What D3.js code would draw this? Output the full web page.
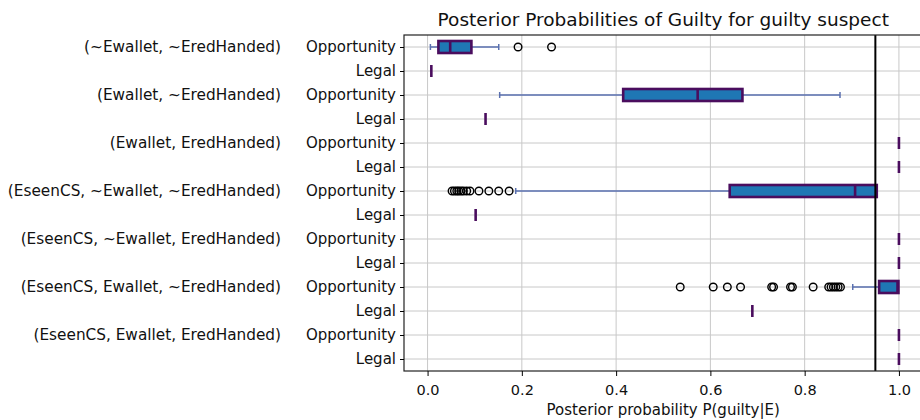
<!DOCTYPE html>
<html>
<head>
    <meta charset="utf-8">
    <title>Posterior Probabilities</title>
    <style>
        body { margin: 0; background: #fff; }
        text { font-family: "DejaVu Sans", sans-serif; }
    </style>
</head>
<body>
    <script src="https://cdnjs.cloudflare.com/ajax/libs/d3/7.9.0/d3.min.js"></script>
    <script>

        // one group label per pair of rows (Opportunity, Legal)
        const groups = [
            "(~Ewallet, ~EredHanded)",
            "(Ewallet, ~EredHanded)",
            "(Ewallet, EredHanded)",
            "(EseenCS, ~Ewallet, ~EredHanded)",
            "(EseenCS, ~Ewallet, EredHanded)",
            "(EseenCS, Ewallet, ~EredHanded)",
            "(EseenCS, Ewallet, EredHanded)"
        ];
        const rowLabels = ["Opportunity", "Legal"];

        // box summaries, one entry per row, top to bottom
        const whiskerLow  = [0.006, 0.008, 0.153, 0.123, 1.0, 1.0, 0.187, 0.102, 1.0, 1.0, 0.902, 0.689, 1.0, 1.0];
        const q1          = [0.023, 0.008, 0.415, 0.123, 1.0, 1.0, 0.641, 0.102, 1.0, 1.0, 0.958, 0.689, 1.0, 1.0];
        const median      = [0.048, 0.008, 0.573, 0.123, 1.0, 1.0, 0.907, 0.102, 1.0, 1.0, 0.997, 0.689, 1.0, 1.0];
        const q3          = [0.093, 0.008, 0.668, 0.123, 1.0, 1.0, 0.953, 0.102, 1.0, 1.0, 0.999, 0.689, 1.0, 1.0];
        const whiskerHigh = [0.151, 0.008, 0.875, 0.123, 1.0, 1.0, 0.953, 0.102, 1.0, 1.0, 0.999, 0.689, 1.0, 1.0];
        const outliers = [
            [0.192, 0.263], [], [], [], [], [],
            [0.052, 0.057, 0.062, 0.066, 0.071, 0.076, 0.083, 0.090, 0.109, 0.130, 0.151, 0.173], [],
            [], [],
            [0.536, 0.606, 0.636, 0.664, 0.730, 0.734, 0.770, 0.774, 0.818, 0.851, 0.856, 0.861, 0.866, 0.871, 0.876], [],
            [], []
        ];
        const xTicks = [0.0, 0.2, 0.4, 0.6, 0.8, 1.0];
        const threshold = 0.95;

        const width = 920;
        const height = 420;
        const margin = {top: 35, right: -2.5, bottom: 49, left: 404};

        const purple = "#4a0d5e";
        const whiskerColor = "#5a70b0";

        const svg = d3.select("body")
            .append("svg")
            .attr("width", width)
            .attr("height", height);

        const x = d3.scaleLinear()
            .domain([-0.05, 1.05])
            .range([margin.left, width - margin.right]);

        const nRows = whiskerLow.length;
        const y = d3.scaleLinear()
            .domain([0.5, nRows + 0.5])
            .range([margin.top, height - margin.bottom]);

        const rows = d3.range(nRows).map(i => ({
            pos: i + 1,
            lo: whiskerLow[i], q1: q1[i], med: median[i], q3: q3[i], hi: whiskerHigh[i],
            out: outliers[i]
        }));

        const boxH = y(1.25) - y(1);   // half of 0.5 box width
        const capH = y(1.125) - y(1);

        // grid
        svg.append("g")
            .selectAll("line.vg")
            .data(xTicks)
            .join("line")
            .attr("x1", d => x(d)).attr("x2", d => x(d))
            .attr("y1", y(0.5)).attr("y2", y(nRows + 0.5))
            .attr("stroke", "#c8c8c8").attr("stroke-width", 1);

        svg.append("g")
            .selectAll("line.hg")
            .data(rows)
            .join("line")
            .attr("x1", x(-0.05)).attr("x2", x(1.05))
            .attr("y1", d => y(d.pos)).attr("y2", d => y(d.pos))
            .attr("stroke", "#c8c8c8").attr("stroke-width", 1);

        const g = svg.append("g");
        const box = g.selectAll("g.box").data(rows).join("g");

        // whiskers
        box.append("line")
            .attr("x1", d => x(d.lo)).attr("x2", d => x(d.q1))
            .attr("y1", d => y(d.pos)).attr("y2", d => y(d.pos))
            .attr("stroke", whiskerColor).attr("stroke-width", 1.5);
        box.append("line")
            .attr("x1", d => x(d.q3)).attr("x2", d => x(d.hi))
            .attr("y1", d => y(d.pos)).attr("y2", d => y(d.pos))
            .attr("stroke", whiskerColor).attr("stroke-width", 1.5);
        // caps
        box.filter(d => d.lo < d.q1).append("line")
            .attr("x1", d => x(d.lo)).attr("x2", d => x(d.lo))
            .attr("y1", d => y(d.pos) - capH).attr("y2", d => y(d.pos) + capH)
            .attr("stroke", whiskerColor).attr("stroke-width", 1.5);
        box.filter(d => d.hi > d.q3).append("line")
            .attr("x1", d => x(d.hi)).attr("x2", d => x(d.hi))
            .attr("y1", d => y(d.pos) - capH).attr("y2", d => y(d.pos) + capH)
            .attr("stroke", whiskerColor).attr("stroke-width", 1.5);

        // boxes
        box.append("rect")
            .attr("x", d => x(d.q1))
            .attr("width", d => x(d.q3) - x(d.q1))
            .attr("y", d => y(d.pos) - boxH)
            .attr("height", 2 * boxH)
            .attr("fill", "#1f77b4")
            .attr("stroke", purple)
            .attr("stroke-width", 2.6);

        // medians
        box.append("line")
            .attr("x1", d => x(d.med)).attr("x2", d => x(d.med))
            .attr("y1", d => y(d.pos) - boxH).attr("y2", d => y(d.pos) + boxH)
            .attr("stroke", purple).attr("stroke-width", 2.6);

        // outliers
        box.selectAll("circle")
            .data(d => d.out.map(v => ({v, pos: d.pos})))
            .join("circle")
            .attr("cx", d => x(d.v))
            .attr("cy", d => y(d.pos))
            .attr("r", 3.8)
            .attr("fill", "none")
            .attr("stroke", "#000")
            .attr("stroke-width", 1.4);

        // threshold line
        svg.append("line")
            .attr("x1", x(threshold)).attr("x2", x(threshold))
            .attr("y1", y(0.5)).attr("y2", y(nRows + 0.5))
            .attr("stroke", "#000").attr("stroke-width", 2);

        // frame
        svg.append("rect")
            .attr("x", x(-0.05)).attr("y", y(0.5))
            .attr("width", x(1.05) - x(-0.05))
            .attr("height", y(nRows + 0.5) - y(0.5))
            .attr("fill", "none")
            .attr("stroke", "#222").attr("stroke-width", 1.2);

        // X axis
        const xAxis = svg.append("g")
            .attr("transform", `translate(0,${y(nRows + 0.5)})`)
            .call(d3.axisBottom(x).tickValues(xTicks).tickFormat(d3.format(".1f")).tickSize(5).tickPadding(9));
        xAxis.select(".domain").remove();
        xAxis.selectAll("text").attr("font-size", "14.5px").attr("fill", "#111")
            .style("font-family", "'DejaVu Sans', sans-serif");

        // Y axis
        const yAxis = svg.append("g")
            .attr("transform", `translate(${margin.left},0)`)
            .call(d3.axisLeft(y).tickValues(rows.map(d => d.pos))
                .tickFormat((d, i) => rowLabels[i % 2]).tickSize(4).tickPadding(4));
        yAxis.select(".domain").remove();
        yAxis.selectAll("text").attr("font-size", "15px").attr("fill", "#111")
            .style("font-family", "'DejaVu Sans', sans-serif");

        // group labels
        svg.append("g")
            .selectAll("text")
            .data(groups)
            .join("text")
            .attr("x", 281)
            .attr("y", (d, i) => y(2 * i + 1))
            .attr("dy", "0.32em")
            .attr("text-anchor", "end")
            .attr("font-size", "15.3px")
            .attr("fill", "#111")
            .text(d => d);

        // title
        svg.append("text")
            .attr("x", (x(-0.05) + x(1.05)) / 2)
            .attr("y", 26)
            .attr("text-anchor", "middle")
            .attr("font-size", "18.5px")
            .attr("fill", "#111")
            .text("Posterior Probabilities of Guilty for guilty suspect");

        // x label
        svg.append("text")
            .attr("x", (x(-0.05) + x(1.05)) / 2)
            .attr("y", 415)
            .attr("text-anchor", "middle")
            .attr("font-size", "15px")
            .attr("fill", "#111")
            .text("Posterior probability P(guilty|E)");

    </script>
</body>
</html>
